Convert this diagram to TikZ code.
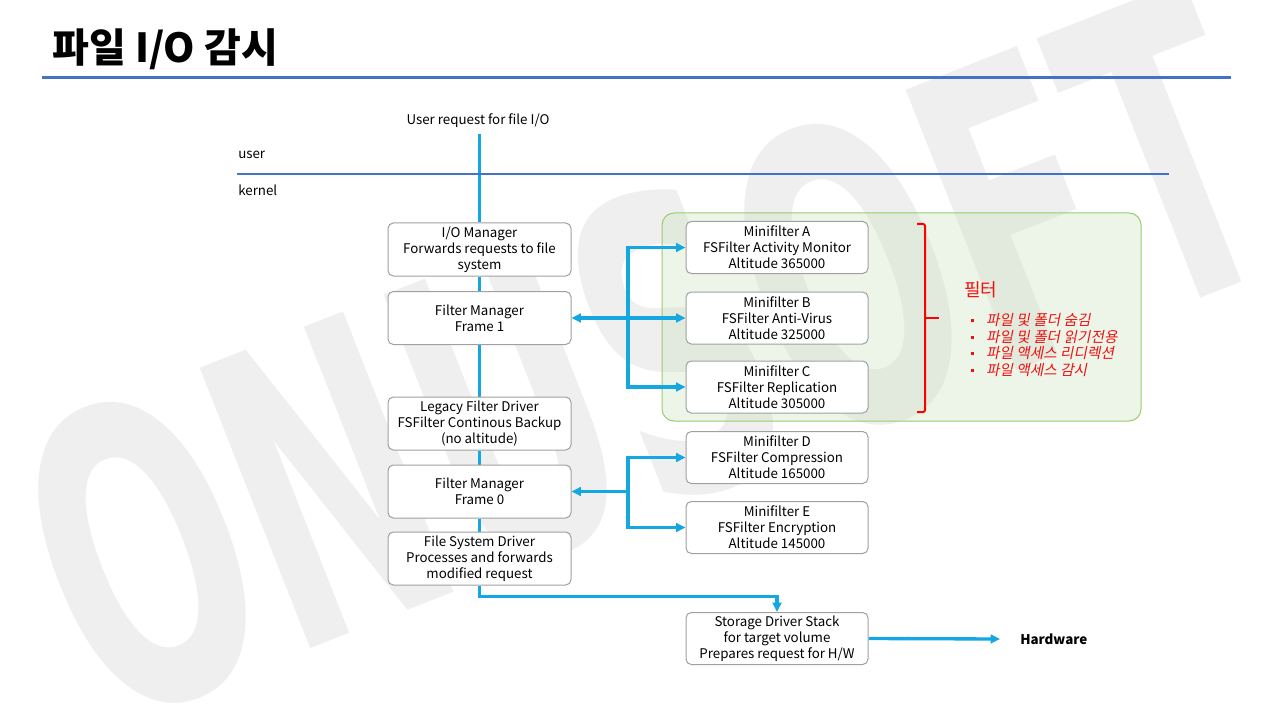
\documentclass[tikz,border=0pt]{standalone}
\usepackage{fontspec}
\setmainfont{Noto Sans CJK KR}
\newfontfamily\wmfont{DejaVu Sans}
\newfontfamily\krit{Noto Sans CJK KR}[FakeSlant=0.2]
\usetikzlibrary{arrows.meta}
\definecolor{ruleblue}{HTML}{4472C4}
\definecolor{conncyan}{RGB}{20,167,225}
\definecolor{boxgray}{HTML}{A0A0A0}
\definecolor{wmgray}{HTML}{EFEFEF}
\definecolor{grpfill}{HTML}{C5E0B4}
\definecolor{grpdraw}{HTML}{9BCB6E}
\definecolor{redtxt}{HTML}{F01010}
\pgfdeclarelayer{wm}
\pgfdeclarelayer{lines}
\pgfsetlayers{wm,lines,main}
\newcommand\bul{\raisebox{2.6pt}{\rule{2.2pt}{2.2pt}}\hspace{9pt}}
\begin{document}
\begin{tikzpicture}[x=0.75pt,y=-0.75pt,
  txt/.style={font=\fontsize{10}{12}\selectfont, inner sep=0pt},
  box/.style={draw=boxgray, line width=0.75pt, rounded corners=4pt, fill=white, align=center, font=\fontsize{10}{12}\selectfont, inner sep=0pt},
  lbox/.style={box, minimum width=137.25pt, minimum height=39.75pt},
  rbox/.style={box, minimum width=136.5pt, minimum height=39pt},
  conn/.style={draw=conncyan, line width=2.5pt},
  tipend/.style={-{Triangle[length=7pt,width=6.5pt]}},
  tipboth/.style={{Triangle[length=7pt,width=6.5pt]}-{Triangle[length=7pt,width=6.5pt]}}
]
\useasboundingbox (0,0) rectangle (1280,720);

% watermark and group box
\begin{pgfonlayer}{wm}
\fill[white] (0,0) rectangle (1280,720);
\node[rotate=21.5, xscale=0.57, text=wmgray, inner sep=0pt,
      font=\wmfont\bfseries\fontsize{310}{310}\selectfont] (wm) at (645,355) {ONUSOFT};
\draw[draw=grpdraw, line width=0.75pt, fill=grpfill, fill opacity=0.3, rounded corners=9pt]
  (662,213) rectangle (1141,421);
\end{pgfonlayer}

% title
\node[anchor=base west, inner sep=0pt, font=\fontsize{30}{30}\selectfont\bfseries] (title) at (52,63) {파일 I/O 감시};
\draw[draw=ruleblue, line width=2.25pt] (42,78) -- (1231,78);

% user / kernel
\node[txt] (ureq) at (478,121) {User request for file I/O};
\node[txt, anchor=west] (user) at (238,155) {user};
\node[txt, anchor=west] (kernel) at (238,190) {kernel};
\draw[draw=ruleblue, line width=0.9pt] (237,174) -- (1169,174);

% left column
\node[lbox] (io)  at (479.5,249.5) {I/O Manager\\Forwards requests to file\\system};
\node[lbox] (fm1) at (479.5,318) {Filter Manager\\Frame 1};
\node[lbox] (leg) at (479.5,423.5) {Legacy Filter Driver\\FSFilter Continous Backup\\(no altitude)};
\node[lbox] (fm0) at (479.5,491.5) {Filter Manager\\Frame 0};
\node[lbox] (fsd) at (479.5,558.5) {File System Driver\\Processes and forwards\\modified request};

% right column
\node[rbox] (mA) at (777,247.5) {Minifilter A\\FSFilter Activity Monitor\\Altitude 365000};
\node[rbox] (mB) at (777,318) {Minifilter B\\FSFilter Anti-Virus\\Altitude 325000};
\node[rbox] (mC) at (777,387) {Minifilter C\\FSFilter Replication\\Altitude 305000};
\node[rbox] (mD) at (777,457.5) {Minifilter D\\FSFilter Compression\\Altitude 165000};
\node[rbox] (mE) at (777,527.5) {Minifilter E\\FSFilter Encryption\\Altitude 145000};
\node[rbox] (st) at (777,638.5) {Storage Driver Stack\\for target volume\\Prepares request for H/W};

\node[anchor=west, inner sep=0pt, font=\fontsize{10}{12}\selectfont\bfseries] (hw) at (1020,639) {Hardware};

% filter annotation
\draw[draw=red, line width=1.5pt, rounded corners=1.5pt] (917,224) -- (925,224) -- (925,412) -- (917,412);
\draw[draw=red, line width=1.5pt] (925,318) -- (939,318);
\node[anchor=west, inner sep=0pt, text=redtxt, font=\fontsize{13.5}{14}\selectfont] (pil) at (964,290) {필터};
\node[anchor=west, inner sep=0pt, text=redtxt, align=left, font=\krit\fontsize{11}{12.3}\selectfont] (blist) at (971,345)
  {\bul 파일 및 폴더 숨김\\\bul 파일 및 폴더 읽기전용\\\bul 파일 액세스 리디렉션\\\bul 파일 액세스 감시};

% connectors
\coordinate (j1) at (628,318);
\coordinate (j0) at (628,491.5);
\begin{pgfonlayer}{lines}
\draw[conn, shorten <=4pt] (io.north |- ureq.south) -- (io.north);
\draw[conn] (io.south) -- (fm1.north);
\draw[conn] (fm1.south) -- (leg.north);
\draw[conn] (leg.south) -- (fm0.north);
\draw[conn] (fm0.south) -- (fsd.north);
\draw[conn, tipend] (fsd.south) -- ++(0,11) -| (st.north);
\draw[conn, tipboth] (fm1.east) -- (mB.west);
\draw[conn, tipend] (j1) |- (mA.west);
\draw[conn, tipend] (j1) |- (mC.west);
\draw[conn, tipend] (j0) -- (fm0.east);
\draw[conn, tipend] (j0) |- (mD.west);
\draw[conn, tipend] (j0) |- (mE.west);
\draw[conn, tipend] (st.east) -- ([xshift=-15pt]hw.west);
\end{pgfonlayer}
\end{tikzpicture}
\end{document}
